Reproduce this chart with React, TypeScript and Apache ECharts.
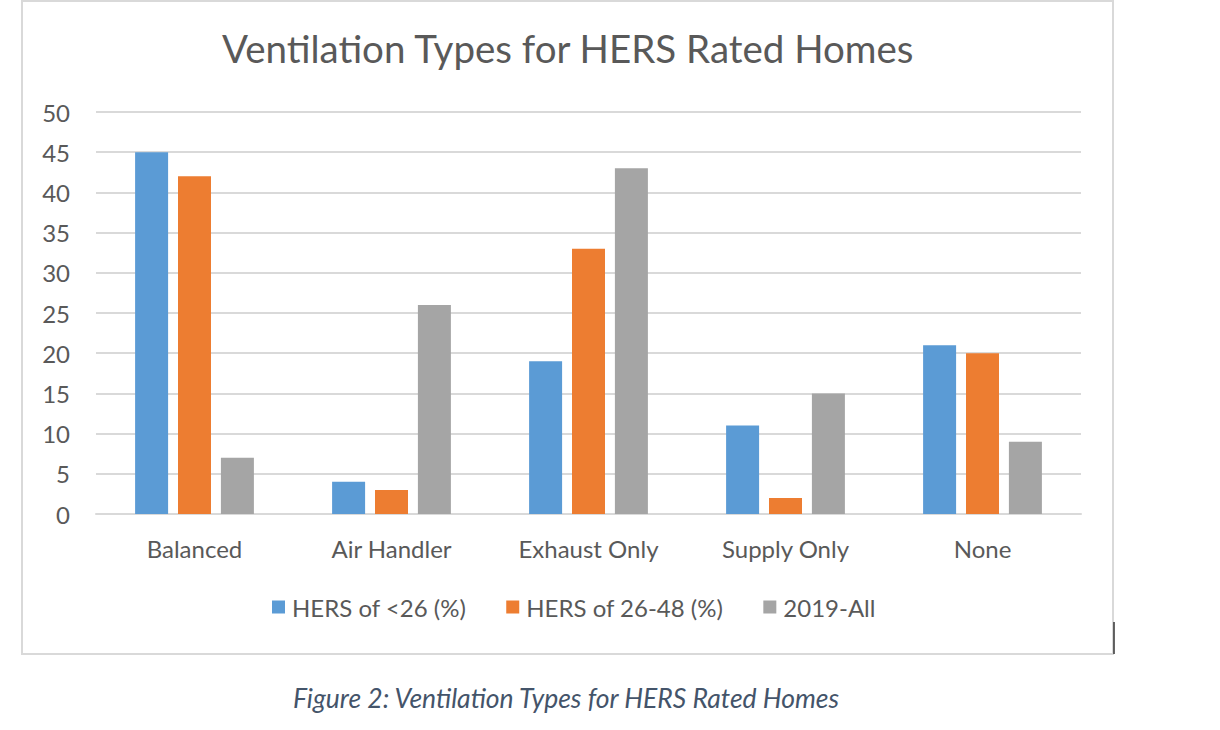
import React, { useEffect, useRef } from "react";
import * as echarts from "echarts";

const categories = ["Balanced", "Air Handler", "Exhaust Only", "Supply Only", "None"];
const seriesNames = ["HERS of <26 (%)", "HERS of 26-48 (%)", "2019-All"];
const hersUnder26 = [45, 4, 19, 11, 21];
const hers26to48 = [42, 3, 33, 2, 20];
const all2019 = [7, 26, 43, 15, 9];
const colors = ["#5B9BD5", "#ED7D31", "#A5A5A5"];
const FONT = "Lato, 'Open Sans', sans-serif";

export default function App() {
  const ref = useRef<HTMLDivElement>(null);
  useEffect(() => {
    if (!ref.current) return;
    const chart = echarts.init(ref.current, undefined, { renderer: "svg" });
    const values = [hersUnder26, hers26to48, all2019];
    chart.setOption({
      animation: false,
      backgroundColor: "#ffffff",
      textStyle: { fontFamily: FONT },
      title: [
        {
          text: "Ventilation Types for HERS Rated Homes",
          left: 222,
          top: 28,
          padding: 0,
          textStyle: { fontFamily: FONT, fontSize: 38.5, fontWeight: "normal", color: "#595959" },
        },
        {
          text: "Figure 2: Ventilation Types for HERS Rated Homes",
          left: 293,
          top: 684,
          padding: 0,
          textStyle: { fontFamily: FONT, fontSize: 26.5, fontStyle: "italic", fontWeight: "normal", color: "#44546A" },
        },
      ],
      legend: {
        data: seriesNames,
        left: 272,
        top: 595,
        padding: 0,
        icon: "rect",
        itemWidth: 13,
        itemHeight: 13,
        itemGap: 40,
        textStyle: { fontFamily: FONT, fontSize: 24, color: "#595959", padding: [0, 0, 0, 2] },
      },
      grid: { left: 96, right: 139, top: 112, bottom: 216 },
      xAxis: {
        type: "category",
        data: categories,
        axisTick: { show: false },
        axisLine: { lineStyle: { color: "#D9D9D9", width: 2 } },
        axisLabel: { color: "#595959", fontSize: 24, margin: 22, fontFamily: FONT },
      },
      yAxis: {
        type: "value",
        min: 0,
        max: 50,
        interval: 5,
        axisLine: { show: false },
        axisTick: { show: false },
        axisLabel: { color: "#595959", fontSize: 24, margin: 26, fontFamily: FONT },
        splitLine: { lineStyle: { color: "#D9D9D9", width: 2 } },
      },
      series: seriesNames.map((name, i) => ({
        name,
        type: "bar",
        data: values[i],
        barWidth: 33,
        barGap: "30%",
        itemStyle: { color: colors[i] },
      })),
      graphic: [
        {
          type: "rect",
          shape: { x: 22, y: 1, width: 1091, height: 653 },
          style: { fill: "none", stroke: "#D9D9D9", lineWidth: 2 },
          silent: true,
        },
        {
          type: "line",
          shape: { x1: 1114, y1: 622, x2: 1114, y2: 654 },
          style: { stroke: "#333333", lineWidth: 1.5 },
          silent: true,
        },
      ],
    });
    return () => chart.dispose();
  }, []);
  return (
    <div
      ref={ref}
      style={{ position: "absolute", left: 0, top: 0, width: 1220, height: 730 }}
    />
  );
}
